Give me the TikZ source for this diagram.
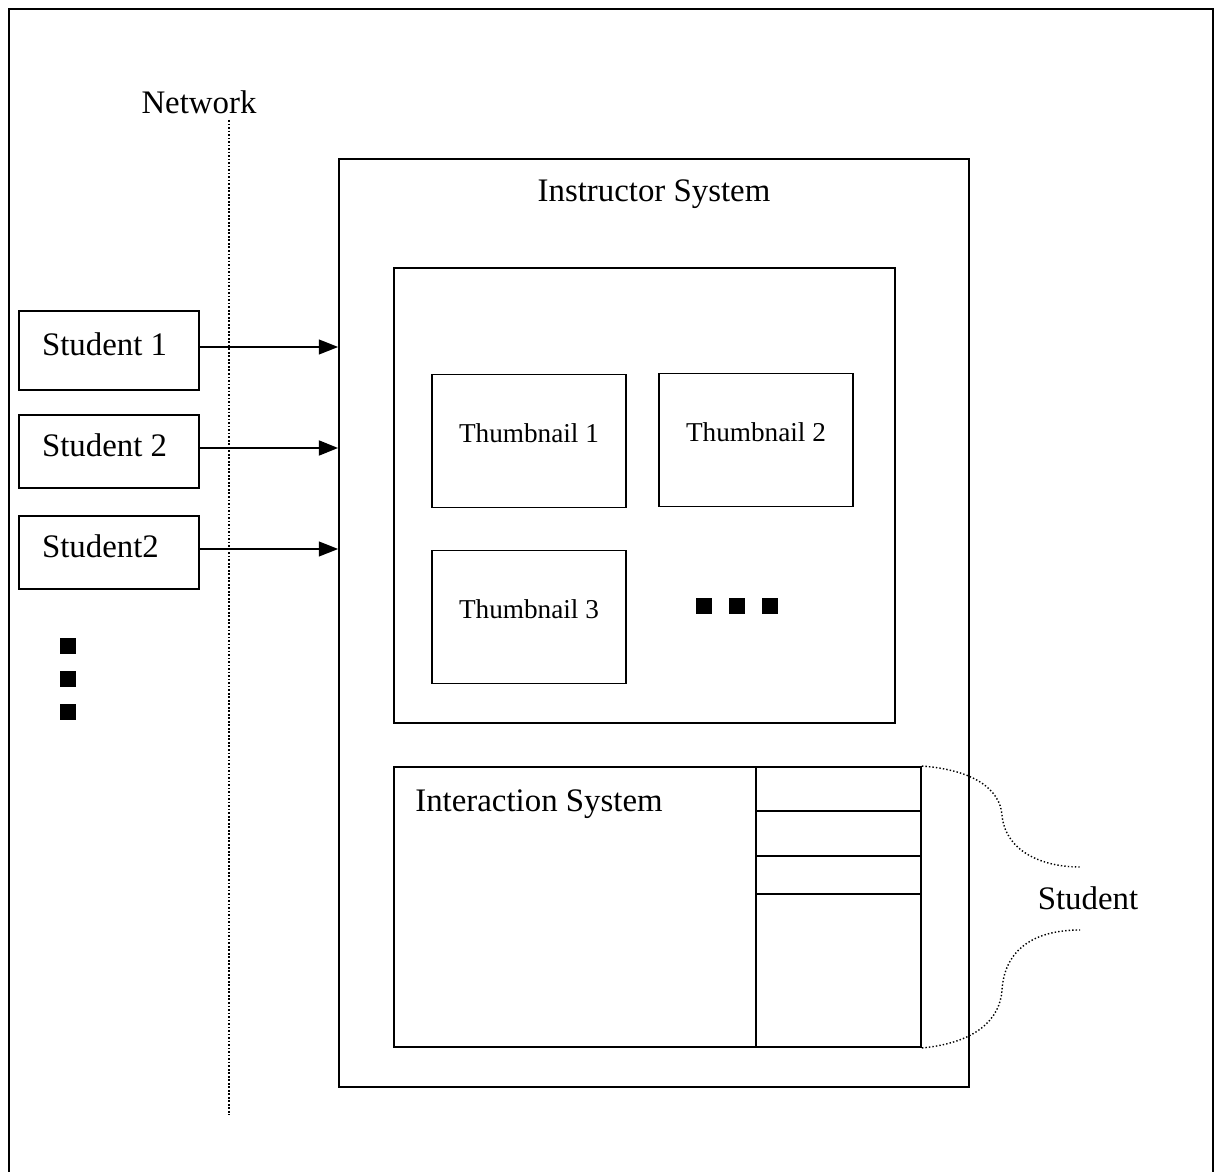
\documentclass[tikz,border=0pt]{standalone}
\usepackage{fontspec}
\setmainfont{Liberation Serif}
\usetikzlibrary{arrows.meta}

\tikzset{
  box/.style={draw, line width=1.1pt, rectangle, inner sep=0pt},
  stubox/.style={box, minimum width=3.6cm, inner xsep=0.46cm, text width=2.68cm, align=flush left,
    text depth=0.25cm, font=\fontsize{18.7}{22}\selectfont},
  thumb/.style={box, minimum width=3.88cm, minimum height=2.66cm, text depth=0.3cm,
    font=\fontsize{15.5}{18}\selectfont},
  lbl/.style={inner sep=0pt, font=\fontsize{18.7}{22}\selectfont},
  dot/.style={fill=black, inner sep=0pt, minimum size=0.32cm},
  link/.style={line width=0.9pt, -{Triangle[length=11pt,width=8.5pt]}},
  brace/.style={line width=0.8pt, dash pattern=on 0.8pt off 1.2pt}
}

\begin{document}
\begin{tikzpicture}[x=0.02cm,y=-0.02cm]
  \useasboundingbox (0,0) rectangle (1215,1172);

  % frame
  \draw[line width=1.2pt] (9,1172) -- (9,9) -- (1213,9) -- (1213,1172);

  % network line
  \node[lbl] (net) at (199,102) {Network};
  \coordinate (netTop) at (229,120);
  \coordinate (netBot) at (229,1115);
  \draw[line width=0.6pt, dash pattern=on 1pt off 1pt] (netTop) -- (netBot);

  % instructor side
  \node[box, minimum width=12.6cm, minimum height=18.56cm] (inst) at (654,623) {};
  \node[lbl] (instTitle) at (654,194) {Instructor System};
  \node[box, minimum width=10.02cm, minimum height=9.1cm] (thumbs) at (644.5,495.5) {};

  \node[thumb] (t1) at (529,441) {Thumbnail 1};
  \node[thumb] (t2) at (756,440) {Thumbnail 2};
  \node[thumb] (t3) at (529,617) {Thumbnail 3};
  \foreach \x in {704,737,770}
    \node[dot] (more\x) at (\x,606) {};

  \node[box, minimum width=10.54cm, minimum height=5.6cm] (inter) at (657.5,907) {};
  \node[lbl, anchor=west] (interTitle) at (415,804) {Interaction System};
  \coordinate (split) at (756,767);
  \draw[line width=1.1pt] (split) -- (split |- inter.south);
  \foreach \y in {811,856,894}
    \draw[line width=1.1pt] (756,\y) -- (inter.east |- 0,\y);

  % student list
  \node[lbl] (stuLbl) at (1088,898) {Student};
  \coordinate (braceTop) at (1080,867);
  \coordinate (braceBot) at (1080,930);
  \draw[brace] (inter.north east) .. controls (975,770) and (1000,790) .. (1002,815)
    .. controls (1005,850) and (1040,867) .. (braceTop);
  \draw[brace] (inter.south east) .. controls (975,1043) and (1000,1020) .. (1002,990)
    .. controls (1005,945) and (1040,930) .. (braceBot);

  % students
  \node[stubox, minimum height=1.58cm] (s1) at (109,350.5) {Student 1};
  \node[stubox, minimum height=1.46cm] (s2) at (109,451.5) {Student 2};
  \node[stubox, minimum height=1.46cm] (s3) at (109,552.5) {Student2};
  \foreach \y in {646,679,712}
    \node[dot] (stuMore\y) at (68,\y) {};

  \draw[link] (s1.east |- 0,347) -- (inst.west |- 0,347);
  \draw[link, line width=1.3pt] (s2.east |- 0,448) -- (inst.west |- 0,448);
  \draw[link] (s3.east |- 0,549) -- (inst.west |- 0,549);
\end{tikzpicture}
\end{document}
